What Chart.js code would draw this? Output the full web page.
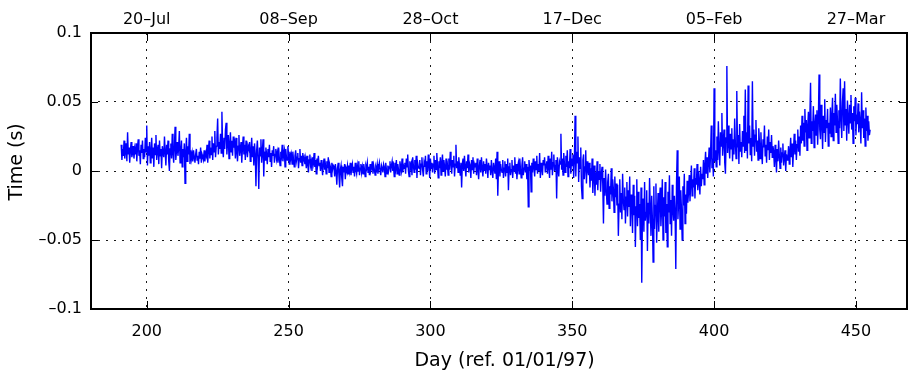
<!DOCTYPE html>
<html>
<head>
<meta charset="utf-8">
<title>Time offset</title>
<script src="https://cdn.jsdelivr.net/npm/chart.js@4.4.0/dist/chart.umd.min.js"></script>
<style>
  html, body { margin: 0; padding: 0; background: #fff; }
</style>
</head>
<body>
<canvas id="grafico" width="909" height="372"></canvas>
<script>
// Primer dia de la serie y paso entre muestras (dias)
const firstDay = 191;
const dayStep = 0.25;

// Desfase de tiempo en milisegundos, una fila = 5 dias
const timeOffsetMs = [
  19, 8, 16, 11, 22, 9, 14, 20, 7, 28, 12, 17, 6, 15, 21, 10, 13, 18, 9, 16,
  12, 20, 7, 17, 23, 11, 15, 5, 19, 13, 22, 9, 16, 10, 24, 14, 33, 4, 18, 11,
  21, 6, 14, 24, 9, 17, 3, 20, 12, 26, 8, 15, 19, 5, 22, 11, 16, 2, 18, 13,
  10, 25, 14, 4, 19, 12, 22, 7, 0, 16, 20, 9, 27, 13, 6, 18, 32, 8, 15, 21,
  11, 17, 29, 6, 14, 22, 3, 16, 10, 20, -9, 13, 24, 7, 18, 12, 27, 5, 15, 9,
  13, 7, 15, 10, 6, 12, 16, 8, 11, 5, 14, 9, 17, 6, 12, 10, 8, 15, 7, 13,
  11, 19, 6, 15, 22, 9, 17, 12, 25, 8, 20, 14, 29, 10, 18, 24, 38, 12, 21, 16,
  27, 13, 43, 18, 10, 24, 16, 30, 35, 12, 21, 26, 9, 19, 28, 14, 22, 11, 25, 17,
  20, 9, 24, 14, 7, 18, 26, 11, 16, 21, 6, 17, 25, 12, 19, 8, 22, 15, 10, 18,
  16, 21, 7, 14, 24, 10, 18, 4, 20, 12, -11, 15, 22, 9, -13, 17, 11, 23, 6, 14,
  23, -4, 14, 8, 17, 12, 5, 16, 10, 19, 7, 13, 3, 15, 11, 18, 6, 12, 16, 9,
  13, 6, 17, 9, 4, 14, 11, 19, 7, 12, 15, 3, 16, 10, 8, 18, 12, 5, 14, 9,
  12, 5, 14, 8, 3, 11, 15, 7, 10, 13, 2, 9, 16, 6, 11, 4, 13, 8, 10, 5,
  9, 2, 11, 5, -1, 8, 12, 4, 7, 0, 10, 6, 13, 3, 8, -2, 9, 5, 11, 4,
  6, 0, 8, 3, -3, 5, 9, 1, 4, -2, 7, 2, 10, -1, 5, 3, -4, 6, 1, 4,
  3, -4, 5, 0, -10, 2, 6, -3, -12, 1, 4, -5, -11, 3, -1, 5, -6, 2, 0, 4,
  -2, 4, 0, 6, -3, 2, 5, -1, 3, -4, 6, 1, -2, 4, 0, 7, -3, 2, 5, -1,
  3, -2, 5, 1, -4, 4, 2, 6, -1, 3, -3, 5, 0, 2, 7, -2, 4, 1, -3, 3,
  1, 5, -2, 3, 6, 0, -3, 4, 2, -1, 5, 3, -4, 6, 1, -2, 4, 0, 3, 7,
  -1, 4, 7, 0, 3, -4, 6, 2, 8, -2, 5, 1, -3, 7, 3, 0, 9, -1, 4, 2,
  6, -2, 9, 3, 12, 0, -4, 7, 2, 5, -3, 10, 4, -1, 8, 1, 11, -5, 6, 3,
  2, 8, -3, 5, 10, 1, -4, 6, 3, 11, -2, 7, 0, 12, 4, -5, 9, 2, 6, -1,
  5, 11, -2, 8, 1, 13, 4, -5, 7, 2, 10, -3, 6, 12, 0, 8, 3, -4, 9, 1,
  4, -3, 9, 1, 14, 6, -2, 8, 3, 11, -4, 5, 19, 2, 7, -1, 10, 4, -3, 6,
  -12, 5, 9, 0, 11, 3, -4, 7, 2, 12, -1, 6, 4, -5, 8, 1, 10, -2, 5, 3,
  6, -3, 9, 1, -6, 4, 8, -1, 10, 2, -4, 7, 0, 5, -2, 9, 3, -5, 6, 1,
  4, -3, 8, 0, -5, 6, 2, -2, 9, -6, 14, -18, 3, 7, -4, 5, 1, -1, 8, -5,
  2, 7, -4, 5, -1, 9, -14, 3, 6, -3, 1, 8, -5, 4, 0, 10, -2, 5, -6, 3,
  6, -2, 9, 1, -5, 4, 10, -3, 2, 7, -1, 5, -6, 3, -26, 8, 0, 4, -15, 6,
  -1, 9, 3, -4, 7, 1, 11, -2, 5, 0, 13, -5, 6, 2, -3, 8, 4, 10, -1, 5,
  7, -2, 11, 3, -5, 9, 1, 14, -3, 6, 12, 0, 4, 8, -20, 10, 2, -4, 7, 5,
  27, 1, 9, -3, 13, 5, -1, 11, 3, 15, -4, 7, 2, 16, -2, 9, 4, 12, -5, 8,
  40, -4, 14, 6, 25, -8, 10, 2, 17, -11, -20, 8, 12, -6, 3, 15, -9, 7, 1, -3,
  6, -12, 2, -7, 9, -16, -3, 4, -18, -1, -10, 7, -14, 0, -6, 5, -15, -2, 3, -9,
  -38, -5, -18, 1, -14, -24, -8, -2, -27, -11, -17, 2, -22, -6, -13, -30, -4, -19, -9, -25,
  -10, -47, -24, -6, -30, -16, -35, -2, -21, -28, -12, -38, -19, -8, -33, -14, -26, -4, -40, -17,
  -22, -45, -10, -32, -18, -55, -26, -6, -40, -15, -34, -24, -50, -12, -81, -29, -20, -44, -8, -36,
  -30, -14, -58, -23, -38, -5, -27, -47, -18, -35, -66, -11, -42, -25, -9, -52, -31, -16, -44, -21,
  -12, -40, -27, -6, -50, -19, -33, -8, -45, -24, -55, -15, -30, -3, -38, -21, -47, -10, -28, -36,
  -18, -30, -71, -9, 15, -35, -22, -4, -42, -14, -28, -50, -11, -25, -2, -38, -17, -31, -7, -23,
  -15, -3, -22, -9, 4, -18, -6, -12, 2, -20, -5, -10, 5, -14, 0, -8, -17, 3, -11, -2,
  -6, 8, -10, 4, 14, -2, 10, -5, 6, 17, -1, 12, 33, 2, 9, -4, 60, 7, 15, 3,
  25, 8, 36, 15, 4, 28, 18, 42, 11, 22, 30, 6, -2, 24, 76, 13, 33, 19, 9, 27,
  16, 31, 7, 23, 12, 38, 20, 9, 58, 17, 26, 5, 34, 14, 21, 10, 29, 18, 40, 13,
  59, 15, 28, 9, 62, 20, 33, 12, 24, 7, 65, 18, 30, 11, 26, 37, 14, 22, 8, 31,
  20, 9, 28, 14, 5, 23, 17, 33, 11, 19, 6, 25, 15, 30, 8, 21, 13, 26, 10, 18,
  14, 3, 19, 9, -1, 16, 7, 22, 11, 2, 17, 6, 13, 20, 4, 10, 15, 0, 12, 8,
  9, 18, 5, 14, 24, 10, 20, 3, 16, 27, 12, 22, 8, 19, 30, 14, 25, 11, 33, 20,
  40, 22, 35, 18, 45, 28, 37, 15, 32, 43, 24, 38, 64, 20, 36, 29, 47, 17, 33, 41,
  26, 44, 19, 36, 70, 30, 23, 48, 34, 16, 40, 28, 52, 21, 37, 31, 45, 18, 35, 27,
  46, 25, 39, 53, 22, 42, 33, 56, 28, 48, 36, 20, 44, 31, 67, 38, 24, 50, 60, 29,
  65, 33, 45, 22, 51, 38, 27, 48, 35, 55, 30, 42, 20, 47, 36, 53, 26, 41, 34, 49,
  28, 43, 35, 20, 57, 31, 44, 24, 38, 18, 46, 29, 40, 22, 36, 26, 30
];

// Marcas de los ejes
const dayTicks = [200, 250, 300, 350, 400, 450];
const dateLabels = ['20\u2013Jul', '08\u2013Sep', '28\u2013Oct', '17\u2013Dec', '05\u2013Feb', '27\u2013Mar'];
const timeTicks = [-0.1, -0.05, 0, 0.05, 0.1];
const timeTickLabels = ['\u20130.1', '\u20130.05', '0', '0.05', '0.1'];

const dayMin = 180;
const dayMax = 468;

// Puntos {x: dia, y: segundos}
var puntos = timeOffsetMs.map(function (v, i) {
  return { x: firstDay + i * dayStep, y: v / 1000 };
});

var fuente = 'DejaVu Sans';

// Marco negro con marcas hacia dentro (estilo MATLAB)
var marcoEjes = {
  id: 'marcoEjes',
  afterDatasetsDraw: function (chart) {
    var ctx = chart.ctx;
    var a = chart.chartArea;
    var sx = chart.scales.x;
    var sy = chart.scales.y;
    var tick = 8;
    ctx.save();
    ctx.strokeStyle = '#000';
    ctx.lineWidth = 1;
    ctx.beginPath();
    dayTicks.forEach(function (d) {
      var px = Math.round(sx.getPixelForValue(d)) + 0.5;
      ctx.moveTo(px, a.bottom); ctx.lineTo(px, a.bottom - tick);
      ctx.moveTo(px, a.top); ctx.lineTo(px, a.top + tick);
    });
    timeTicks.forEach(function (t) {
      var py = Math.round(sy.getPixelForValue(t)) + 0.5;
      ctx.moveTo(a.left, py); ctx.lineTo(a.left + tick, py);
      ctx.moveTo(a.right, py); ctx.lineTo(a.right - tick, py);
    });
    ctx.stroke();
    ctx.lineWidth = 2;
    ctx.strokeRect(a.left + 1, a.top, a.right - a.left - 1, a.bottom - a.top);
    ctx.restore();
  }
};

var ctxGrafico = document.getElementById('grafico').getContext('2d');
new Chart(ctxGrafico, {
  type: 'line',
  data: {
    datasets: [{
      data: puntos,
      borderColor: 'rgb(0, 0, 255)',
      borderWidth: 1.4,
      pointRadius: 0,
      tension: 0,
      fill: false
    }]
  },
  options: {
    responsive: false,
    animation: false,
    layout: { padding: { left: 0, right: 2, top: 0, bottom: 0 } },
    plugins: { legend: { display: false }, tooltip: { enabled: false } },
    scales: {
      x: {
        type: 'linear',
        position: 'bottom',
        min: dayMin,
        max: dayMax,
        afterBuildTicks: function (s) { s.ticks = dayTicks.map(function (v) { return { value: v }; }); },
        afterFit: function (s) { s.height = 63; },
        grid: { color: 'rgba(0,0,0,0.9)', lineWidth: 1, drawTicks: false },
        border: { display: false, dash: [2, 6] },
        ticks: { color: '#000', padding: 13, maxRotation: 0, font: { family: fuente, size: 16 } },
        title: { display: true, text: '  Day (ref. 01/01/97)', color: '#000', padding: { top: 0, bottom: 0 }, font: { family: fuente, size: 19 } }
      },
      x2: {
        type: 'linear',
        position: 'top',
        min: dayMin,
        max: dayMax,
        afterBuildTicks: function (s) { s.ticks = dayTicks.map(function (v) { return { value: v }; }); },
        afterFit: function (s) { s.height = 33; },
        grid: { display: false, drawTicks: false },
        border: { display: false },
        ticks: {
          color: '#000', padding: 4, maxRotation: 0, font: { family: fuente, size: 16 },
          callback: function (v) { return dateLabels[dayTicks.indexOf(v)]; }
        }
      },
      y: {
        type: 'linear',
        min: -0.1,
        max: 0.1,
        afterBuildTicks: function (s) { s.ticks = timeTicks.map(function (v) { return { value: v }; }); },
        afterFit: function (s) { s.width = 90; },
        grid: { color: 'rgba(0,0,0,0.9)', lineWidth: 1, drawTicks: false },
        border: { display: false, dash: [2, 6] },
        ticks: {
          color: '#000', padding: 8, font: { family: fuente, size: 16 },
          callback: function (v) { return timeTickLabels[timeTicks.indexOf(v)]; }
        },
        title: { display: true, text: '   Time (s)', color: '#000', padding: { top: 6, bottom: 0 }, font: { family: fuente, size: 19 } }
      }
    }
  },
  plugins: [marcoEjes]
});
</script>
</body>
</html>
